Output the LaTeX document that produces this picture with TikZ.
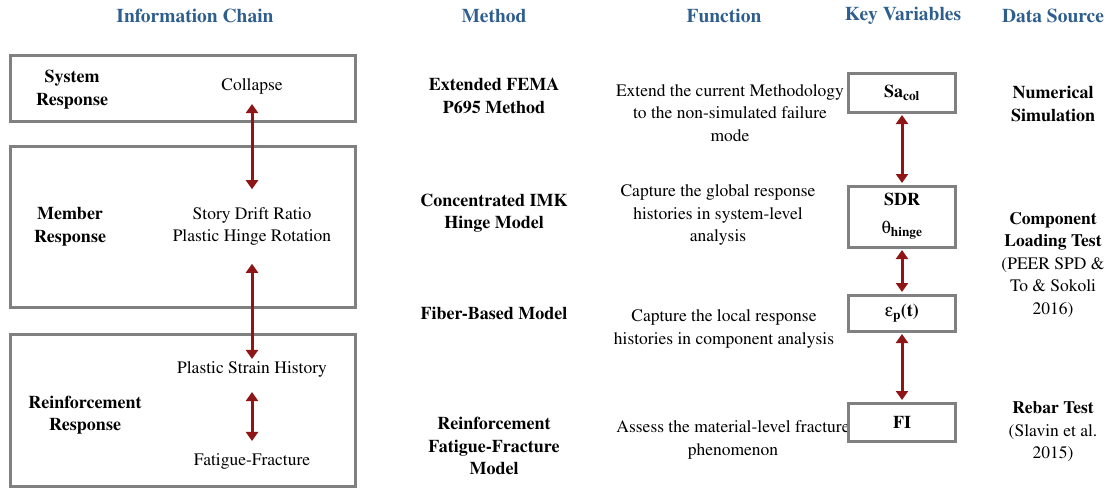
\documentclass[tikz,border=0pt]{standalone}
\usepackage[T1]{fontenc}
\usepackage{mathptmx}
\usepackage[Symbol]{upgreek}
\usetikzlibrary{arrows.meta}
\definecolor{headblue}{HTML}{2E5E8E}
\definecolor{boxgray}{HTML}{808080}
\definecolor{linkred}{HTML}{8E1616}
\begin{document}
\begin{tikzpicture}[x=1pt,y=-1pt,
    every node/.style={font=\fontsize{17.5}{22.5}\selectfont, align=center, inner sep=0pt},
    head/.style={font=\fontsize{19.5}{23}\selectfont\bfseries, text=headblue},
    title/.style={font=\fontsize{18}{22.5}\selectfont\bfseries},
    frame/.style={draw=boxgray, line width=3pt},
    varbox/.style={frame, minimum width=107pt, font=\fontsize{18}{28}\selectfont\bfseries},
    link/.style={draw=linkred, line width=3pt,
      {Triangle[width=12pt,length=9pt]}-{Triangle[width=12pt,length=9pt]}}]
    \useasboundingbox (0,0) rectangle (1118,488);

    % column headings
    \node[head] (hchain) at (195,16) {Information Chain};
    \node[head] (hmethod) at (494,16) {Method};
    \node[head] (hfunc) at (724,16) {Function};
    \node[head] (hvar) at (903,16) {Key Variables};
    \node[head] (hdata) at (1053,16) {Data Source};

    % information chain frames
    \draw[frame] (10,55) rectangle (355,121);
    \draw[frame] (10,146) rectangle (355,307);
    \draw[frame] (10,334) rectangle (355,486.5);

    \node[title] (sys) at (72,89.5) {System\\Response};
    \node[title] (mem) at (70,226.5) {Member\\Response};
    \node[title] (reinf) at (85,415) {Reinforcement\\Response};

    \node (collapse) at (252,86) {Collapse};
    \node (member) at (252,226.5) {Story Drift Ratio\\Plastic Hinge Rotation};
    \node (strain) at (252,369) {Plastic Strain History};
    \node (fatigue) at (252,461) {Fatigue-Fracture};

    \draw[link, shorten <=10pt, shorten >=18pt] (collapse) -- (member);
    \draw[link, shorten <=18pt, shorten >=2pt] (member) -- (strain);
    \draw[link, shorten <=15pt, shorten >=12pt] (strain) -- (fatigue);

    % methods
    \node[title] (fema) at (494,96) {Extended FEMA\\P695 Method};
    \node[title] (imk) at (494,213) {Concentrated IMK\\Hinge Model};
    \node[title] (fiber) at (494,313) {Fiber-Based Model};
    \node[title] (fatmodel) at (494,446) {Reinforcement\\Fatigue-Fracture\\Model};

    % functions
    \node (fext) at (730,113) {Extend the current Methodology\\to the non-simulated failure\\mode};
    \node (fglob) at (718,215) {Capture the global response\\histories in system-level\\analysis};
    \node (floc) at (724,329) {Capture the local response\\histories in component analysis};
    \node (fass) at (733,440) {Assess the material-level fracture\\phenomenon};

    % key variables
    \node[varbox, minimum height=39pt] (sa) at (902,92.5) {Sa\textsubscript{col}};
    \node[varbox, minimum height=61pt] (sdr) at (902,216.5) {SDR\\$\uptheta$\textsubscript{hinge}};
    \node[varbox, minimum height=36pt] (eps) at (902,313) {$\upvarepsilon$\textsubscript{p}(t)};
    \node[varbox, minimum height=38pt] (fi) at (902,422) {FI};

    \draw[link, shorten <=1.5pt, shorten >=1.5pt] (sa) -- (sdr);
    \draw[link, shorten <=1.5pt, shorten >=1.5pt] (sdr) -- (eps);
    \draw[link, shorten <=1.5pt, shorten >=1.5pt] (eps) -- (fi);

    % data sources
    \node[title] (numsim) at (1053,104) {Numerical\\Simulation};
    \node (comp) at (1053,265) {\textbf{Component}\\\textbf{Loading Test}\\(PEER SPD \&\\To \& Sokoli\\2016)};
    \node (rebar) at (1053,432) {\textbf{Rebar Test}\\(Slavin et al.\\2015)};
\end{tikzpicture}
\end{document}
